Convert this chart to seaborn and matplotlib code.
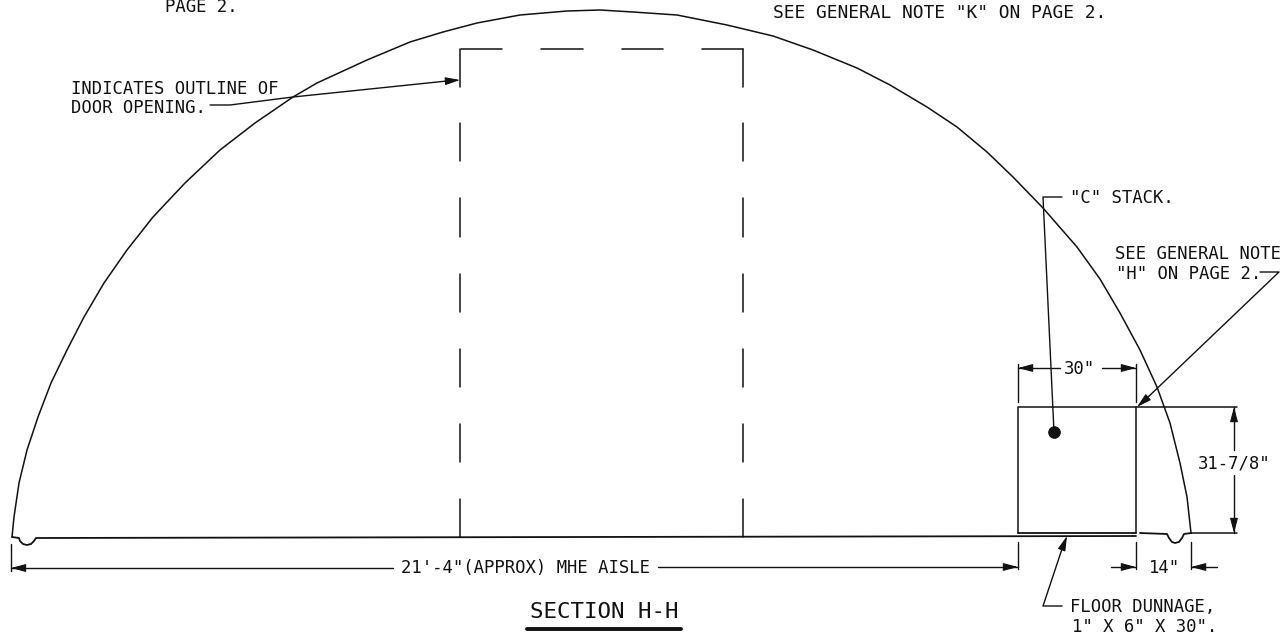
import matplotlib
matplotlib.use('Agg')
import matplotlib.pyplot as plt
import seaborn as sns

## DRAWING DATA (x to the right, y downwards)
arch_x = [12, 14, 19, 27, 38, 51, 67, 84, 104, 127, 153, 185, 220, 255, 293, 317, 367, 410, 443, 477, 520, 567,
          600, 633, 677, 727, 773, 813, 857, 890, 927, 957, 987, 1013, 1043, 1077, 1100, 1120, 1140, 1157, 1170,
          1180, 1187, 1191]
arch_y = [537, 517, 483, 450, 417, 383, 350, 317, 283, 250, 217, 183, 150, 123, 97, 83, 60, 42, 32, 23, 15, 11,
          10, 12, 15, 25, 36, 50, 68, 85, 107, 127, 152, 177, 208, 247, 279, 313, 350, 387, 423,
          463, 497, 533]

floor_left_x = [12, 19, 20, 23, 27, 31, 34, 36, 1136]
floor_left_y = [537, 538, 541, 544, 545, 544, 541, 538, 536]
floor_right_x = [1140, 1167, 1169, 1172, 1175, 1179, 1182, 1184, 1191]
floor_right_y = [533, 534, 538, 542, 543, 542, 538, 534, 533]

door_col_x = [460.5, 743]
door_top_y = 49
door_dash_top = [49, 123, 198, 274, 349, 424, 499]
door_dash_bot = [87, 161, 237, 312, 387, 462, 537]
lintel_start = [461, 541, 622, 702]
lintel_end = [502, 583, 663, 743]

stack_x = [1018, 1018, 1136, 1136]
stack_y = [533, 407, 407, 533]
stack_base_x = [1018, 1136]
stack_base_y = [533, 533]
stack_top_ext_x = [1136, 1237]
stack_top_ext_y = [407, 407]
base_ext_x = [1191, 1237]
base_ext_y = [533, 533]

door_leader_x = [210, 230, 293, 447]
door_leader_y = [105, 105, 97, 81]
c_leader_x = [1062, 1043, 1054]
c_leader_y = [197, 197, 432]
h_leader_x = [1260, 1279, 1146]
h_leader_y = [272, 272, 399]
dunnage_leader_x = [1062, 1043, 1062]
dunnage_leader_y = [606, 606, 549]

dim_lines = [
    ([11, 393], [568, 568]),
    ([658, 1018], [567, 567]),
    ([11, 11], [544, 571]),
    ([1018, 1018], [542, 569]),
    ([1136, 1136], [542, 569]),
    ([1191, 1191], [542, 569]),
    ([1111, 1136], [567, 567]),
    ([1217, 1191], [567, 567]),
    ([1018, 1060], [368, 368]),
    ([1102, 1136], [368, 368]),
    ([1018, 1018], [364, 402]),
    ([1136, 1136], [364, 402]),
    ([1234, 1234], [407, 450]),
    ([1234, 1234], [475, 533]),
]

# arrow heads: tip, then the point the head grows from
arrow_tips = [(460, 80), (1137, 407), (1067, 536), (11, 568), (1018, 567), (1136, 567),
              (1191, 567), (1018, 368), (1136, 368), (1234, 407), (1234, 533)]
arrow_tails = [(447, 81), (1146, 399), (1062, 549), (24, 568), (1005, 567), (1123, 567),
               (1204, 567), (1031, 368), (1123, 368), (1234, 420), (1234, 520)]

dot_x = [1054]
dot_y = [432]

labels = ['PAGE 2.', 'INDICATES OUTLINE OF', 'DOOR OPENING.',
          '"C" STACK.', 'SEE GENERAL NOTE', '"H" ON PAGE 2.', '30"', '31-7/8"',
          '21\'-4"(APPROX) MHE AISLE', '14"', 'FLOOR DUNNAGE,', '1" X 6" X 30".']
label_x = [165, 71, 71, 1070, 1115, 1116, 1064, 1198, 401, 1149, 1070, 1072]
label_y = [7, 89, 108, 198, 254, 274, 369, 464, 568, 568, 607, 627]

note_k = 'SEE GENERAL NOTE "K" ON PAGE 2.'
title = 'SECTION H-H'
underline_x = [527, 681]
underline_y = [629, 629]

INK = '#111111'

## PLOT
sns.set_theme(style='white')
plt.rcParams['font.family'] = ['DejaVu Sans Mono', 'DejaVu Sans']

fig, ax = plt.subplots(figsize=(12.88, 6.34), dpi=100)
ax.set_position([0, 0, 1, 1])


def draw(xs, ys, lw=1.1):
    sns.lineplot(x=xs, y=ys, sort=False, estimator=None, color=INK, linewidth=lw, ax=ax, legend=False)


draw(arch_x, arch_y)
draw(floor_left_x, floor_left_y, 1.3)
draw(floor_right_x, floor_right_y, 1.3)

for col in door_col_x:
    for top, bot in zip(door_dash_top, door_dash_bot):
        draw([col, col], [top, bot])
for start, end in zip(lintel_start, lintel_end):
    draw([start, end], [door_top_y, door_top_y])

draw(stack_x, stack_y)
draw(stack_base_x, stack_base_y, 1.3)
draw(stack_top_ext_x, stack_top_ext_y)
draw(base_ext_x, base_ext_y)

draw(door_leader_x, door_leader_y, 1.0)
draw(c_leader_x, c_leader_y, 1.0)
draw(h_leader_x, h_leader_y, 1.0)
draw(dunnage_leader_x, dunnage_leader_y, 1.0)
for xs, ys in dim_lines:
    draw(xs, ys, 1.0)

for tip, tail in zip(arrow_tips, arrow_tails):
    ax.annotate('', xy=tip, xytext=tail,
                arrowprops=dict(arrowstyle='-|>,head_length=0.75,head_width=0.2', color=INK,
                                lw=0.8, shrinkA=0, shrinkB=0, mutation_scale=12))

sns.scatterplot(x=dot_x, y=dot_y, color=INK, s=70, edgecolor=INK, ax=ax, legend=False)

for text, x, y in zip(labels, label_x, label_y):
    ax.text(x, y, text, fontsize=12.4, color=INK, ha='left', va='center')

ax.text(773, 13, note_k, fontsize=12.85, color=INK, ha='left', va='center')
ax.text(604, 612, title, fontsize=16.2, color=INK, ha='center', va='center')
draw(underline_x, underline_y, 2.8)

ax.set_xlim(0, 1288)
ax.set_ylim(634, 0)
ax.axis('off')

plt.savefig('out.png', dpi=100)
